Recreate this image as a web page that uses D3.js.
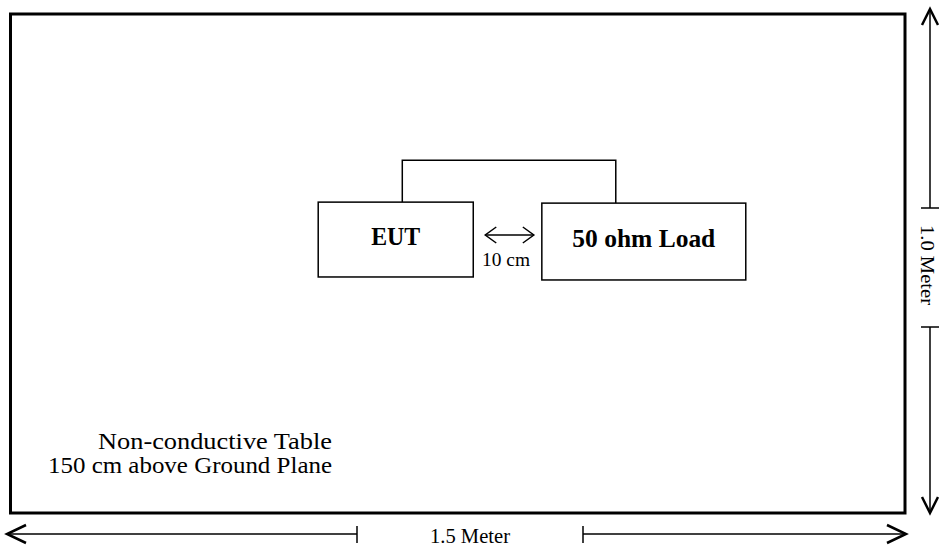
<!DOCTYPE html>
<html lang="en">
<head>
  <meta charset="UTF-8">
  <title>Test Setup - Non-conductive Table</title>
  <script src="https://d3js.org/d3.v7.min.js"></script>
  <style>
    body {
      margin: 0;
      background: #fff;
    }
    svg text {
      font-family: "Liberation Serif", "Times New Roman", serif;
      fill: #000;
    }
    .box, .table, .wire, .dim {
      fill: none;
      stroke: #000;
    }
  </style>
</head>
<body>
  <svg width="939" height="549"></svg>
  <script>
    // table size in meters and its dimension labels
    const tableSize = [1.5, 1.0];
    const dimLabels = ["1.5 Meter", "1.0 Meter"];
    // equipment boxes on the table (meters from top-left corner)
    const boxNames = ["EUT", "50 ohm Load"];
    const boxX0 = [0.516, 0.891];
    const boxX1 = [0.776, 1.233];
    const boxY0 = [0.377, 0.379];
    const boxY1 = [0.527, 0.533];
    // cable between the two boxes
    const wireX = [0.657, 1.015];
    const wireTop = 0.293;
    const spacingLabel = "10 cm";
    const tableNote = ["Non-conductive Table", "150 cm above Ground Plane"];

    const svg = d3.select("svg");

    const x = d3.scaleLinear().domain([0, tableSize[0]]).range([10.5, 905]);
    const y = d3.scaleLinear().domain([0, tableSize[1]]).range([14, 513]);

    // table outline
    svg.append("rect")
      .attr("class", "table")
      .attr("x", x(0)).attr("y", y(0))
      .attr("width", x(tableSize[0]) - x(0))
      .attr("height", y(tableSize[1]) - y(0))
      .attr("stroke-width", 3);

    // wire
    svg.append("path")
      .attr("class", "wire")
      .attr("stroke-width", 1.5)
      .attr("d", d3.line()([
        [x(wireX[0]), y(boxY0[0])],
        [x(wireX[0]), y(wireTop)],
        [x(wireX[1]), y(wireTop)],
        [x(wireX[1]), y(boxY0[1])]
      ]));

    // boxes
    const boxes = boxNames.map((name, i) => ({
      name, x0: boxX0[i], x1: boxX1[i], y0: boxY0[i], y1: boxY1[i]
    }));

    svg.selectAll(".box")
      .data(boxes)
      .enter()
      .append("rect")
      .attr("class", "box")
      .attr("stroke-width", 1.5)
      .attr("x", d => x(d.x0))
      .attr("y", d => y(d.y0))
      .attr("width", d => x(d.x1) - x(d.x0))
      .attr("height", d => y(d.y1) - y(d.y0));

    const labelWidth = [49, 143];
    svg.selectAll(".boxlabel")
      .data(boxes)
      .enter()
      .append("text")
      .attr("class", "boxlabel")
      .attr("x", (d, i) => (x(d.x0) + x(d.x1)) / 2 - labelWidth[i] / 2)
      .attr("y", d => (y(d.y0) + y(d.y1)) / 2 + 5)
      .attr("font-weight", "bold")
      .attr("font-size", 25)
      .attr("textLength", (d, i) => labelWidth[i])
      .attr("lengthAdjust", "spacingAndGlyphs")
      .text(d => d.name);

    // arrow head helper: tip at (tx,ty), pointing along angle (deg)
    function head(tx, ty, angle, len, half, sw) {
      svg.append("path")
        .attr("class", "dim")
        .attr("stroke-width", sw)
        .attr("stroke-linejoin", "miter")
        .attr("transform", `translate(${tx},${ty}) rotate(${angle})`)
        .attr("d", `M${-len},${-half} L0,0 L${-len},${half}`);
    }

    // 10 cm spacing arrow
    const gapL = x(boxX1[0]) + 12, gapR = x(boxX0[1]) - 8, gapY = 235;
    svg.append("line").attr("class", "dim").attr("stroke-width", 1.5)
      .attr("x1", gapL).attr("x2", gapR).attr("y1", gapY).attr("y2", gapY);
    head(gapR, gapY, 0, 11, 8, 1.5);
    head(gapL, gapY, 180, 11, 8, 1.5);
    svg.append("text")
      .attr("x", 482)
      .attr("y", 266)
      .attr("font-size", 19)
      .attr("textLength", 48)
      .attr("lengthAdjust", "spacingAndGlyphs")
      .text(spacingLabel);

    // horizontal dimension (1.5 m)
    const hy = 534, hL = 7, hR = 906;
    const hTick = [357, 583];
    svg.append("line").attr("class", "dim").attr("stroke-width", 1.5)
      .attr("x1", hL).attr("x2", hTick[0]).attr("y1", hy).attr("y2", hy);
    svg.append("line").attr("class", "dim").attr("stroke-width", 1.5)
      .attr("x1", hTick[1]).attr("x2", hR).attr("y1", hy).attr("y2", hy);
    hTick.forEach(t => svg.append("line").attr("class", "dim").attr("stroke-width", 1.5)
      .attr("x1", t).attr("x2", t).attr("y1", hy - 8).attr("y2", hy + 9));
    head(hL, hy, 180, 19, 9, 2.5);
    head(hR, hy, 0, 19, 9, 2.5);
    svg.append("text")
      .attr("x", 430)
      .attr("y", 543)
      .attr("font-size", 20)
      .attr("textLength", 80)
      .attr("lengthAdjust", "spacingAndGlyphs")
      .text(dimLabels[0]);

    // vertical dimension (1.0 m)
    const vx = 930, vT = 9, vB = 513;
    const vTick = [208, 327];
    svg.append("line").attr("class", "dim").attr("stroke-width", 1.5)
      .attr("x1", vx).attr("x2", vx).attr("y1", vT).attr("y2", vTick[0]);
    svg.append("line").attr("class", "dim").attr("stroke-width", 1.5)
      .attr("x1", vx).attr("x2", vx).attr("y1", vTick[1]).attr("y2", vB);
    vTick.forEach(t => svg.append("line").attr("class", "dim").attr("stroke-width", 1.5)
      .attr("x1", vx - 9).attr("x2", vx + 9).attr("y1", t).attr("y2", t));
    head(vx, vT, -90, 16, 8, 2.5);
    head(vx, vB, 90, 16, 8, 2.5);
    svg.append("text")
      .attr("transform", `translate(${vx - 9},225) rotate(90)`)
      .attr("font-size", 18)
      .attr("textLength", 80)
      .attr("lengthAdjust", "spacingAndGlyphs")
      .text(dimLabels[1]);

    // table note (right-aligned block)
    const noteX = [98, 48], noteW = [234, 284];
    svg.selectAll(".note")
      .data(tableNote)
      .enter()
      .append("text")
      .attr("class", "note")
      .attr("x", (d, i) => noteX[i])
      .attr("y", (d, i) => 449 + i * 24)
      .attr("font-size", 24)
      .attr("textLength", (d, i) => noteW[i])
      .attr("lengthAdjust", "spacingAndGlyphs")
      .text(d => d);
  </script>
</body>
</html>
